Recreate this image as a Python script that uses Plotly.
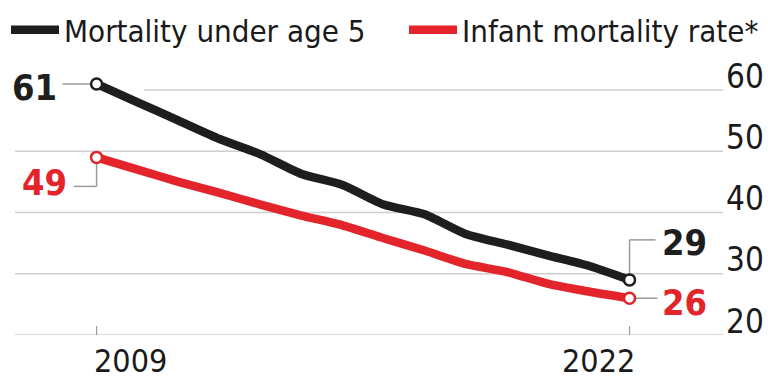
import plotly.graph_objects as go

years = list(range(2009, 2023))
under5 = [61, 58, 55, 52, 49.5, 46.3, 44.5, 41.3, 39.7, 36.5, 34.8, 33.0, 31.3, 29]
infant = [49, 47, 45, 43.2, 41.3, 39.5, 37.9, 35.8, 33.8, 31.6, 30.3, 28.4, 27.1, 26]
names = ["Mortality under age 5", "Infant mortality rate*"]
ytick_vals = [20, 30, 40, 50, 60]
xtick_vals = [2009, 2022]

BLACK = "#1e1e1e"
RED = "#e3242b"
GRID = "#cfcfcf"
CONN = "#9a9a9a"
TXT = "#1a1a1a"
FONT = "DejaVu Sans Condensed, Liberation Sans Narrow, Roboto, sans-serif"

W, H = 768, 379
ML, MR, MT, MB = 15, 45, 70, 44
XR = [2007.01, 2024.28]
YR = [20, 63.27]
pw = W - ML - MR
ph = H - MT - MB
dx = (XR[1] - XR[0]) / pw   # data units per pixel (x)
dy = (YR[1] - YR[0]) / ph   # data units per pixel (y)

fig = go.Figure()
for vals, col, nm, lg in [(under5, BLACK, names[0], "legend"), (infant, RED, names[1], "legend2")]:
    fig.add_trace(go.Scatter(x=years, y=vals, mode="lines", name=nm, legend=lg,
                             line=dict(color=col, width=8.5, shape="spline", smoothing=0.6)))
    fig.add_trace(go.Scatter(x=[years[0], years[-1]], y=[vals[0], vals[-1]], mode="markers",
                             showlegend=False,
                             marker=dict(size=11, color="white", line=dict(color=col, width=2.5))))

shapes = []
for v in ytick_vals:
    x0 = XR[0] if v != 60 else years[0] + 47 * dx
    shapes.append(dict(type="line", xref="x", yref="y", x0=x0, x1=XR[1], y0=v, y1=v,
                       line=dict(color=GRID, width=1.5), layer="below"))
for xv in xtick_vals:
    shapes.append(dict(type="line", xref="x", yref="y", x0=xv, x1=xv,
                       y0=YR[0] - 5 * dy, y1=YR[0] + 9 * dy,
                       line=dict(color=CONN, width=1.2), layer="below"))
cl = dict(color=CONN, width=1.5)
shapes.append(dict(type="line", xref="x", yref="y", x0=years[0] - 34 * dx, x1=years[0],
                   y0=under5[0], y1=under5[0], line=cl, layer="below"))
y49 = infant[0] - 29 * dy
shapes.append(dict(type="line", xref="x", yref="y", x0=years[0] - 23 * dx, x1=years[0],
                   y0=y49, y1=y49, line=cl, layer="below"))
shapes.append(dict(type="line", xref="x", yref="y", x0=years[0], x1=years[0],
                   y0=y49, y1=infant[0], line=cl, layer="below"))
y29 = under5[-1] + 40 * dy
shapes.append(dict(type="line", xref="x", yref="y", x0=years[-1], x1=years[-1],
                   y0=under5[-1], y1=y29, line=cl, layer="below"))
shapes.append(dict(type="line", xref="x", yref="y", x0=years[-1], x1=years[-1] + 26 * dx,
                   y0=y29, y1=y29, line=cl, layer="below"))
shapes.append(dict(type="line", xref="x", yref="y", x0=years[-1], x1=years[-1] + 28 * dx,
                   y0=infant[-1], y1=infant[-1], line=cl, layer="below"))

bold = dict(family=FONT, size=36, weight="bold")
annos = [
    dict(x=years[0], y=under5[0], text=f"<b>{under5[0]:g}</b>", xanchor="right", yanchor="middle",
         xshift=-38, yshift=-4, showarrow=False, font=dict(**{**bold, "color": BLACK})),
    dict(x=years[0], y=infant[0], text=f"<b>{infant[0]:g}</b>", xanchor="right", yanchor="middle",
         xshift=-28, yshift=-25, showarrow=False, font=dict(**{**bold, "color": RED})),
    dict(x=years[-1], y=under5[-1], text=f"<b>{under5[-1]:g}</b>", xanchor="left", yanchor="middle",
         xshift=30, yshift=37, showarrow=False, font=dict(**{**bold, "color": BLACK})),
    dict(x=years[-1], y=infant[-1], text=f"<b>{infant[-1]:g}</b>", xanchor="left", yanchor="middle",
         xshift=30, yshift=-4, showarrow=False, font=dict(**{**bold, "color": RED})),
]
# y-axis labels (sit just above their gridlines)
for v in ytick_vals:
    annos.append(dict(xref="paper", x=1, y=v, text=str(v), xanchor="left", yanchor="middle",
                      xshift=1, yshift=14, showarrow=False,
                      font=dict(family=FONT, size=33, color=TXT)))
# x-axis labels (first aligned left of its tick, last aligned right)
for i, xv in enumerate(xtick_vals):
    first = i == 0
    annos.append(dict(x=xv, y=YR[0], text=str(xv), xanchor="left" if first else "right",
                      yanchor="middle", xshift=-5 if first else 7, yshift=-26, showarrow=False,
                      font=dict(family=FONT, size=32, color=TXT)))

leg_common = dict(orientation="h", xanchor="left", y=1 + (MT - 3) / ph, yanchor="top",
                  font=dict(family=FONT, size=31, color=TXT),
                  itemwidth=48, bgcolor="rgba(0,0,0,0)")

fig.update_layout(
    width=W, height=H,
    margin=dict(l=ML, r=MR, t=MT, b=MB, autoexpand=False),
    plot_bgcolor="white", paper_bgcolor="white",
    font=dict(family=FONT, color=TXT),
    shapes=shapes, annotations=annos,
    showlegend=True,
    legend=dict(x=(6 - ML) / pw, **leg_common),
    legend2=dict(x=(404 - ML) / pw, **leg_common),
    xaxis=dict(range=XR, showticklabels=False, showgrid=False, zeroline=False,
               showline=False, ticks="", automargin=False),
    yaxis=dict(range=YR, showticklabels=False, side="right", showgrid=False, zeroline=False,
               showline=False, ticks="", automargin=False),
)

fig.write_html("out.html")
